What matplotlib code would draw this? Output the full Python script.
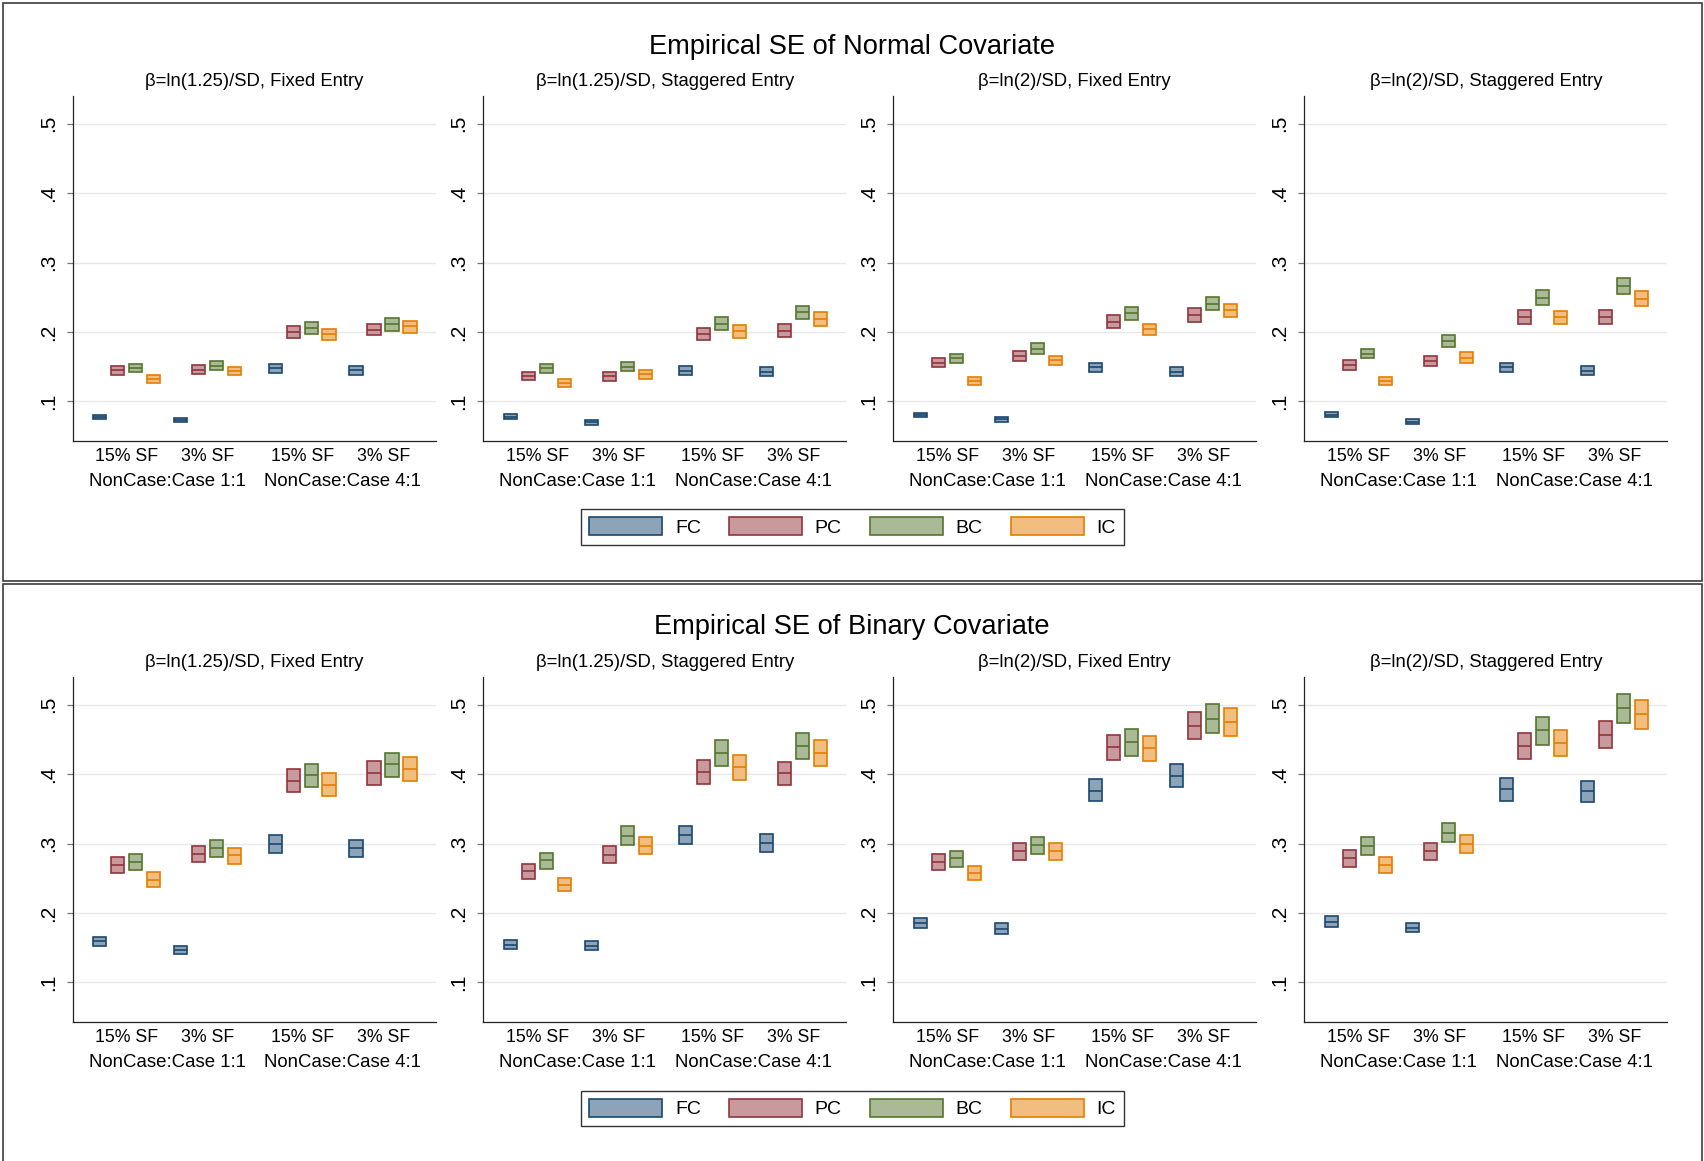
import matplotlib
matplotlib.use("Agg")
import matplotlib.pyplot as plt
from matplotlib.patches import Patch, Rectangle
from matplotlib.transforms import blended_transform_factory
import numpy as np

plt.rcParams['font.family'] = ['Liberation Sans', 'DejaVu Sans']

methods = ['FC', 'PC', 'BC', 'IC']
edge_colors = ['#1a476f', '#90353b', '#55752f', '#e37e00']
fill_colors = ['#8da3b7', '#c89a9d', '#aaba97', '#f1be7f']

panel_titles = ['Empirical SE of Normal Covariate', 'Empirical SE of Binary Covariate']
subplot_titles = ['β=ln(1.25)/SD, Fixed Entry', 'β=ln(1.25)/SD, Staggered Entry',
                  'β=ln(2)/SD, Fixed Entry', 'β=ln(2)/SD, Staggered Entry']
sf_labels = ['15% SF', '3% SF', '15% SF', '3% SF']
ratio_labels = ['NonCase:Case 1:1', 'NonCase:Case 4:1']
yticks = [0.1, 0.2, 0.3, 0.4, 0.5]
ytick_labels = ['.1', '.2', '.3', '.4', '.5']

# each block = one subplot; rows = 15%SF 1:1, 3%SF 1:1, 15%SF 4:1, 3%SF 4:1; cols = FC, PC, BC, IC
normal_lo = [
    [[0.074, 0.138, 0.142, 0.126], [0.070, 0.140, 0.145, 0.138],
     [0.141, 0.192, 0.197, 0.189], [0.138, 0.195, 0.202, 0.199]],
    [[0.075, 0.131, 0.141, 0.121], [0.066, 0.130, 0.144, 0.133],
     [0.138, 0.188, 0.203, 0.192], [0.136, 0.193, 0.219, 0.209]],
    [[0.077, 0.150, 0.156, 0.124], [0.071, 0.158, 0.169, 0.153],
     [0.142, 0.206, 0.218, 0.195], [0.136, 0.215, 0.232, 0.222]],
    [[0.078, 0.146, 0.162, 0.123], [0.068, 0.151, 0.179, 0.156],
     [0.143, 0.212, 0.239, 0.211], [0.138, 0.212, 0.255, 0.237]],
]
normal_med = [
    [[0.077, 0.145, 0.148, 0.132], [0.073, 0.146, 0.151, 0.144],
     [0.148, 0.200, 0.206, 0.197], [0.145, 0.203, 0.211, 0.208]],
    [[0.078, 0.137, 0.148, 0.126], [0.070, 0.136, 0.150, 0.139],
     [0.144, 0.197, 0.212, 0.201], [0.142, 0.202, 0.229, 0.219]],
    [[0.081, 0.156, 0.163, 0.129], [0.074, 0.165, 0.176, 0.160],
     [0.149, 0.215, 0.227, 0.204], [0.142, 0.224, 0.241, 0.231]],
    [[0.081, 0.152, 0.169, 0.129], [0.071, 0.158, 0.187, 0.163],
     [0.149, 0.222, 0.249, 0.221], [0.144, 0.222, 0.266, 0.247]],
]
normal_hi = [
    [[0.080, 0.151, 0.154, 0.138], [0.076, 0.153, 0.158, 0.150],
     [0.154, 0.209, 0.215, 0.205], [0.151, 0.212, 0.220, 0.216]],
    [[0.082, 0.143, 0.154, 0.132], [0.073, 0.142, 0.157, 0.145],
     [0.151, 0.206, 0.222, 0.210], [0.149, 0.211, 0.238, 0.229]],
    [[0.084, 0.163, 0.169, 0.135], [0.077, 0.172, 0.184, 0.166],
     [0.155, 0.224, 0.236, 0.212], [0.149, 0.234, 0.251, 0.241]],
    [[0.085, 0.159, 0.176, 0.135], [0.075, 0.165, 0.195, 0.171],
     [0.156, 0.232, 0.260, 0.230], [0.151, 0.232, 0.278, 0.259]],
]

binary_lo = [
    [[0.152, 0.257, 0.262, 0.237], [0.141, 0.273, 0.281, 0.271],
     [0.287, 0.374, 0.381, 0.368], [0.280, 0.385, 0.396, 0.390]],
    [[0.148, 0.249, 0.264, 0.231], [0.147, 0.272, 0.298, 0.285],
     [0.300, 0.386, 0.412, 0.392], [0.288, 0.384, 0.422, 0.412]],
    [[0.178, 0.262, 0.267, 0.247], [0.170, 0.277, 0.285, 0.277],
     [0.361, 0.420, 0.426, 0.419], [0.381, 0.450, 0.460, 0.455]],
    [[0.180, 0.267, 0.284, 0.258], [0.172, 0.276, 0.302, 0.286],
     [0.362, 0.422, 0.442, 0.426], [0.360, 0.437, 0.474, 0.465]],
]
binary_med = [
    [[0.159, 0.269, 0.274, 0.248], [0.147, 0.285, 0.293, 0.283],
     [0.300, 0.390, 0.399, 0.385], [0.293, 0.402, 0.414, 0.408]],
    [[0.154, 0.260, 0.276, 0.241], [0.153, 0.284, 0.311, 0.297],
     [0.313, 0.403, 0.430, 0.410], [0.301, 0.401, 0.440, 0.431]],
    [[0.186, 0.274, 0.279, 0.257], [0.177, 0.289, 0.298, 0.289],
     [0.376, 0.439, 0.446, 0.437], [0.398, 0.470, 0.479, 0.475]],
    [[0.187, 0.279, 0.296, 0.269], [0.179, 0.289, 0.315, 0.299],
     [0.378, 0.440, 0.463, 0.445], [0.376, 0.456, 0.495, 0.486]],
]
binary_hi = [
    [[0.165, 0.280, 0.285, 0.259], [0.153, 0.297, 0.305, 0.294],
     [0.312, 0.407, 0.415, 0.401], [0.305, 0.419, 0.431, 0.425]],
    [[0.161, 0.270, 0.287, 0.251], [0.160, 0.296, 0.325, 0.310],
     [0.326, 0.420, 0.449, 0.427], [0.314, 0.418, 0.459, 0.449]],
    [[0.193, 0.285, 0.290, 0.268], [0.185, 0.301, 0.310, 0.301],
     [0.393, 0.457, 0.465, 0.455], [0.414, 0.489, 0.501, 0.495]],
    [[0.195, 0.291, 0.309, 0.280], [0.186, 0.301, 0.329, 0.312],
     [0.394, 0.459, 0.482, 0.464], [0.390, 0.476, 0.516, 0.507]],
]

panels = [(normal_lo, normal_med, normal_hi), (binary_lo, binary_med, binary_hi)]

W, H = 1704, 1161
fig = plt.figure(figsize=(W / 100, H / 100), dpi=100)

# pixel layout of each panel
panel_frame_top = [3, 584]
panel_frame_bot = [581, 1170]
panel_title_y = [46.5, 627]
axes_top = [96, 677]
axes_h = 345
axes_left = [72.7, 483.3, 893.3, 1304.3]
axes_w = 363
legend_y = [527, 1108.5]

group_start = [1.5, 6.0, 11.25, 15.75]
box_w = 0.74
ink = '#222222'

for p, (lo_all, med_all, hi_all) in enumerate(panels):
    fig.add_artist(Rectangle((3 / W, 1 - panel_frame_bot[p] / H),
                             (1702 - 3) / W, (panel_frame_bot[p] - panel_frame_top[p]) / H,
                             transform=fig.transFigure, fill=False,
                             edgecolor='#3c3c3c', lw=1.2))
    fig.text(0.5, 1 - panel_title_y[p] / H, panel_titles[p], ha='center', va='center',
             fontsize=19.6, color='black')

    for s in range(4):
        ax = fig.add_axes([axes_left[s] / W, 1 - (axes_top[p] + axes_h) / H,
                           axes_w / W, axes_h / H])
        lo = np.array(lo_all[s])
        med = np.array(med_all[s])
        hi = np.array(hi_all[s])
        for g in range(4):
            for m in range(4):
                x = group_start[g] + m
                ax.bar(x, hi[g, m] - lo[g, m], bottom=lo[g, m], width=box_w,
                       color=fill_colors[m], edgecolor=edge_colors[m], lw=1.2, zorder=3)
                ax.hlines(med[g, m], x - box_w / 2, x + box_w / 2,
                          color=edge_colors[m], lw=1.2, zorder=4)

        ax.set_xlim(0, 20.17)
        ax.set_ylim(0.043, 0.54)
        ax.set_yticks(yticks)
        ax.set_yticklabels(ytick_labels, rotation=90, va='center', fontsize=15)
        ax.grid(axis='y', color='#e8e8e8', lw=1.0, zorder=0)
        ax.set_axisbelow(True)
        ax.tick_params(axis='y', length=4.3, width=0.9, color='#777777', pad=6.5,
                       labelcolor='black')

        centers = [gs + 1.5 for gs in group_start]
        ax.set_xticks(centers)
        ax.set_xticklabels(sf_labels, fontsize=12.8)
        ax.tick_params(axis='x', length=0, pad=5, labelcolor='black')

        trans = blended_transform_factory(ax.transData, ax.transAxes)
        for r in range(2):
            xm = (centers[2 * r] + centers[2 * r + 1]) / 2
            ax.annotate(ratio_labels[r], (xm, 0), xycoords=trans, xytext=(0, -29),
                        textcoords='offset points', ha='center', va='center', fontsize=13.4)

        ax.text(0.5, 1.043, subplot_titles[s], transform=ax.transAxes,
                ha='center', va='center', fontsize=13.3)

        for side in ['top', 'right']:
            ax.spines[side].set_visible(False)
        for side in ['left', 'bottom']:
            ax.spines[side].set_color(ink)
            ax.spines[side].set_linewidth(0.9)

    handles = [Patch(facecolor=fill_colors[i], edgecolor=edge_colors[i], lw=1.2, label=methods[i])
               for i in range(4)]
    fig.legend(handles=handles, loc='center', bbox_to_anchor=(852.5 / W, 1 - legend_y[p] / H),
               ncol=4, fontsize=14, frameon=True, fancybox=False, edgecolor='black',
               handlelength=3.75, handleheight=1.05, handletextpad=0.65, columnspacing=1.45,
               borderpad=0.42, borderaxespad=0)

for leg in fig.legends:
    leg.get_frame().set_linewidth(1.0)

fig.savefig('out.png', dpi=100, facecolor='white')
